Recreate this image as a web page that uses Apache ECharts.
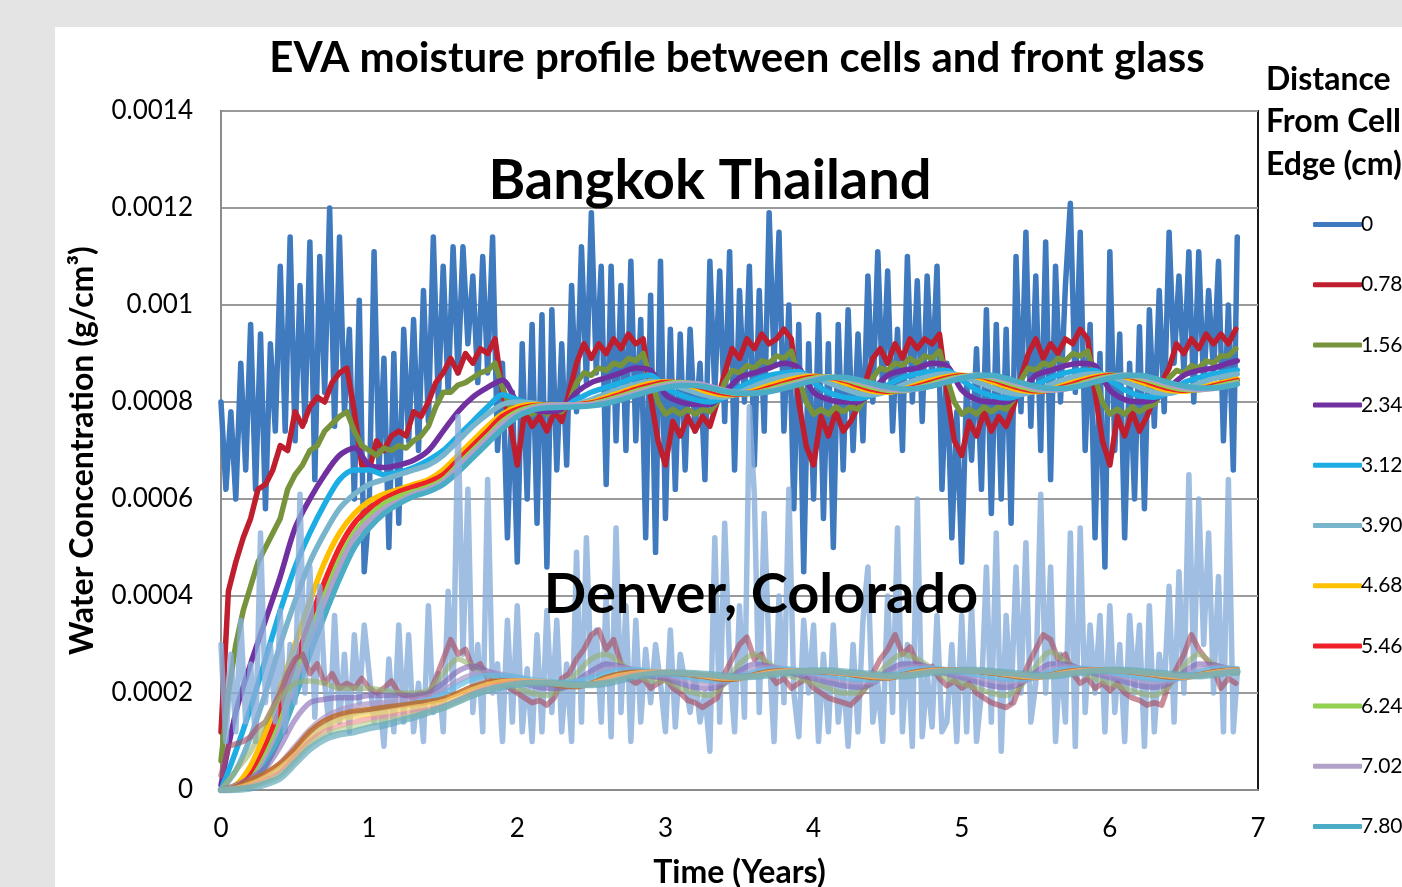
<!DOCTYPE html>
<html>
<head>
<meta charset="utf-8">
<script src="https://cdn.jsdelivr.net/npm/echarts@6/dist/echarts.min.js"></script>
<style>
  html, body { margin: 0; padding: 0; background: #e4e4e4; }
  #main { width: 1402px; height: 887px; }
</style>
</head>
<body>
<div id="main"></div>
<script>
// values in units of 1e-5 g/cm3
// Bangkok, 0 cm : one value every 1/30 year
const bkk0 = [
  80,62,78,60,88,66,96,62,94,58,92,74,108,74,114,72,104,76,113,64,110,82,120,75,114,78,95,60,101,45,
  58,111,66,89,50,90,55,95,72,97,70,103,76,114,80,108,82,112,86,112,92,106,84,110,86,114,70,88,52,82,
  47,92,60,96,55,98,46,99,66,92,67,104,78,112,84,119,86,108,63,108,72,104,70,109,72,97,52,102,49,109,
  56,95,62,94,66,95,74,88,64,109,82,107,76,111,66,103,80,108,67,103,74,119,88,115,74,100,58,96,45,92,
  60,98,56,92,50,96,66,99,70,94,72,106,80,111,82,107,74,95,70,110,80,105,76,106,84,108,62,88,52,78,
  47,84,68,91,62,99,57,96,60,95,55,110,78,115,75,106,70,113,64,108,80,104,121,82,115,70,96,52,90,46,
  111,70,94,52,88,60,95.5,58,99,75,103,78,115,88,106,86,111,80,111,83,103,86,109,72,100,66,114
];
// Bangkok 0.78 and 1.56 cm : every 0.05 year
const bkk078 = [
  12,41,47,52,56,62,63,66,71,70,78,75,79,81,80,84,86,87,78,67,
  66,72,70,73,74,73,78,77,80,84,86,89,86,90,88,91,90,93,82,76,
  67,78,75,77,74,78,76,82,88,92,89,92,90,93,91,94,92,93,81,72,
  67,76,73,77,74,77,75,80,86,91,89,93,91,94,92,93,95,93,80,71,
  67,77,73,78,74,76,79,84,89,91,88,92,89,93,91,93,92,94,82,72,
  69,76,73,78,74,77,75,79,85,90,93,89,92,90,93,92,95,93,82,72,
  67,77,73,78,74,77,81,84,87,92,90,93,91,94,92,94,92,95
];
const bkk156 = [
  6,20,30,37,42,47,50,53,56,62,65,67,70,71,74,75.5,77,78,74,71,
  70,69,70.5,70,71,70.5,72,73,75,79,82,82,83.5,84,85,86,86.5,88,83,79,
  77,78.5,77.5,78.5,77.5,78.5,78,80,84,86,85.5,87,86.5,88,87.5,89,88.5,90,85,80,
  77.5,78.5,77.5,78.5,77.5,78.5,78,80,84,86.5,86,87.5,87,88.5,88,89.5,89,90.5,85,80,
  77.5,78.5,77.5,79,78,79,78.5,81,85,87,86.5,88,87.5,89,88,89.5,89,90.5,85,80,
  77.5,78.5,77.5,79,78,79,78.5,80.5,84.5,87,86.5,88,87.5,89,88.5,90,89.5,90.5,85,80,
  77.5,78.5,77.5,79,78,79,79.5,82,85,86.5,86,87.5,87,88.5,88,89.5,89.5,91
];
// Bangkok, deeper positions : every 0.1 year
const bkk234 = [1,16,26,35,44,54,60,65,69,70.5, 67,66.5,67,68,70,74,78,81,83,84.5, 80,78.5,78,78.5,82,84,85,86,87,86.5, 81.5,80,79.5,79.5,82,85,86,87,88,87, 82,80.5,80,80,82.5,85.5,86.5,87,88,87.5, 82.5,80.5,80,80,82,85.5,86.5,87.5,88,87.5, 82.5,80.5,80,80.5,83,85.5,86.5,87,88, 88.5];
const bkk312 = [0,8,17,27,37,46,53,59,64,66, 66,65,65.5,66.5,68,70,73,76,79,81.5, 80.5,79.5,79,79,80.5,82,83,84,85,85.5, 83,81.5,80.5,80,81,83,84.5,85.5,86,86.3, 84,82,81,80.7,81.5,83.5,85,85.8,86.3,86.5, 84.5,82.5,81.3,80.8,81.5,83.5,85,86,86.5,86.5, 84.5,82.5,81.3,81,82,84,85,85.8,86.3, 86.6];
const bkk390 = [0,4,11,20,30,39,47,53,58,61, 63,64,65,66,67,69,72,75,77.5,79.5, 80,79.8,79.3,79,79.5,80.5,81.7,82.8,83.7,84.3, 84,83,82,81.2,81,82,83.3,84.4,85.2,85.6, 85.2,84,82.8,81.8,81.5,82.2,83.5,84.6,85.4,85.8, 85.4,84.2,83,82,81.6,82.3,83.6,84.7,85.5,85.8, 85.4,84.2,83,82,81.8,82.6,83.8,84.8,85.5, 85.8];
const bkk468 = [0,1,5,12,21,30,39,47,53,57, 59.5,61,62,63,64,66,69,72,75,77.5, 79,79.5,79.4,79.2,79.4,80,81,82,83,83.8, 84.2,83.8,83,82,81.5,81.6,82.4,83.4,84.3,85, 85.3,85,84,83,82.2,82,82.6,83.6,84.5,85.2, 85.5,85.2,84.2,83.2,82.4,82.1,82.6,83.6,84.5,85.2, 85.5,85.2,84.2,83.2,82.4,82.2,82.8,83.6,84.3, 84.7];
const bkk546 = [0,0.5,3,9,17,26,35,43,50,55, 58,60,61.5,62.5,63.5,65,68,71,74,77, 78.5,79.2,79.4,79.3,79.4,79.8,80.6,81.6,82.6,83.4, 84,84,83.4,82.5,81.8,81.6,82,82.9,83.8,84.6, 85.1,85.1,84.5,83.5,82.6,82.2,82.4,83.2,84.1,84.9, 85.4,85.4,84.7,83.7,82.8,82.3,82.4,83.2,84.1,84.9, 85.4,85.4,84.7,83.7,82.8,82.4,82.6,83.3,84, 84.4];
const bkk624 = [0,0.3,2,7,14,23,32,40,47.5,53, 56.5,59,60.5,61.5,62.5,64,67,70,73,76, 78,79,79.4,79.4,79.4,79.6,80.3,81.2,82.2,83, 83.7,84,83.7,82.9,82.1,81.7,81.8,82.5,83.4,84.2, 84.9,85.2,84.8,83.9,83,82.4,82.3,82.9,83.7,84.6, 85.2,85.5,85,84.1,83.2,82.5,82.4,82.9,83.7,84.6, 85.2,85.5,85,84.1,83.2,82.6,82.5,83,83.7, 84.1];
const bkk702 = [0,0.2,1.5,6,12.5,21,30,38.5,46,52, 55.5,58,59.5,61,62,63.5,66.5,69.5,72.5,75.5, 77.5,78.7,79.3,79.4,79.4,79.5,80,80.9,81.8,82.7, 83.4,83.8,83.8,83.2,82.4,81.9,81.8,82.2,83,83.9, 84.6,85.1,85,84.3,83.4,82.7,82.4,82.7,83.4,84.3, 85,85.5,85.3,84.5,83.6,82.8,82.5,82.7,83.4,84.3, 85,85.5,85.3,84.5,83.6,82.9,82.6,82.8,83.4, 83.8];
const bkk780 = [0,0.2,1,5,11,19,28,36,43.5,50, 54,57,59,60.5,61.5,63,65.5,68.5,71.5,74.5, 77,78.3,78.8,78.9,79,79.2,79.7,80.5,81.4,82.3, 83,83.4,83.4,82.9,82.2,81.8,81.8,82.1,82.8,83.6, 84.4,85,85.1,84.6,83.8,83.1,82.7,82.8,83.3,84.1, 84.9,85.4,85.5,84.9,84,83.2,82.8,82.8,83.3,84.1, 84.9,85.4,85.5,84.9,84,83.3,82.9,82.9,83.3, 83.7];

// Denver, 0 cm : every 1/30 year
const den0 = [
  30,10,28,12,35,14,26,10,53,18,30,14,37,12,30,18,61,20,46,15,42,22,12,36,14,28,12,32,18,34,
  24,14,20,9,27,12,34,14,32,12,22,10,38,16,24,12,41,20,77,28,62,16,30,12,64,20,26,10,35,14,
  38,12,25,10,32,12,37,16,35,12,26,10,49,14,52,22,33,14,40,11,54,16,38,10,35,14,29,18,30,22,
  12,33,13,28,22,16,24,14,20,8,52,14,55,26,12,38,15,79,61,16,57,28,10,40,18,62,20,11,35,20,
  34,10,28,12,34,14,24,9,30,12,35,46,14,22,10,40,16,54,12,30,9,60,11,24,13,36,12,14,30,10,
  36,12,38,10,20,46,14,53,8,36,18,46,20,51,14,22,61,20,46,10,28,14,53,9,54,16,34,20,36,12,
  38,16,30,10,36,20,34,9,38,12,28,20,42,14,45,20,65,24,60,30,53,20,44,12,64,12,24
];
// Denver 0.78 cm : every 0.05 year
const den078 = [
  3,9,9.5,10,11,13,14,17,20,24,27,28,24,26,22,24,21,22,21,23,
  21,20,21,22.5,20,19.5,19,20,19.5,23,27,31,28,29,25,26,23,22.5,22,21,
  20,19,18,18.5,17.5,19,23,24,27,29,32,33,29,31,26,23,22,23,21,22,
  23,21,20,18.5,18,17,18,19,24,27,30,31.5,27,28,24,22,23,21,22,23,
  21,20,19,18.5,18,17.5,19,21,24,27,29,32,28,29.5,26,25,25.5,23,21.5,22.5,
  21,22,20,19,18,17.5,17,18,22,26,29,32,31,27,28,24,22,23,21,22,
  20.5,22,20,19,18.5,17.5,18,17.5,22,25,28,32,29,27,25,21,23,22
];
// Denver, deeper positions : every 0.1 year
const den156 = [0,4,8,14,19,22,22.5,22,21,21, 21,20.5,20,20,20.5,24,27,25.5,24,22.5, 21,20,19.5,21,24,27,28,26,24,22.5, 22.5,21,20,19.5,22,26,28,26,24,23, 22,21,20,20,22.5,26,28,27,25,23, 22,21,20,19.5,21.5,25.5,28.5,26.5,24.5,23, 22,21,20,19.5,21.5,25.5,28,26,24.5, 24];
const den234 = [0,1,2.5,4.5,9,14.5,18,18.7,19,19, 19.5,19.5,19.5,19.5,20,22,24.5,25.5,24.5,23.5, 22.5,21.5,21,21,22.5,24.5,26,25.5,24.5,23.5, 23,22,21.2,21,22,24.5,26,25.5,24.5,23.7, 23,22.2,21.5,21.2,22,24.5,26,26,25,24, 23.2,22.3,21.5,21.2,22,24.3,26,26,25,24, 23.2,22.3,21.5,21.2,22,24.3,26,25.8,25, 24.6];
const den312 = [0,0.5,1.5,3,5.5,9,12.5,15,16.5,17.3, 17.8,18,18.3,18.6,19.2,20.5,22.5,23.8,24.2,23.8, 23.2,22.5,22,21.8,22.3,23.5,24.8,25.2,24.8,24.2, 23.6,23,22.4,22.1,22.4,23.6,24.9,25.3,25,24.4, 23.8,23.2,22.6,22.2,22.4,23.6,24.9,25.4,25.1,24.5, 23.9,23.3,22.7,22.3,22.4,23.5,24.9,25.4,25.1,24.5, 23.9,23.3,22.7,22.3,22.4,23.5,24.8,25.3,25.1, 24.9];
const den390 = [0,0.3,1,2.2,4.2,7.2,10.5,13,14.8,15.8, 16.4,16.9,17.4,17.9,18.6,19.8,21.5,22.9,23.6,23.6, 23.3,22.8,22.4,22.2,22.4,23.2,24.2,24.8,24.8,24.5, 24,23.5,23,22.6,22.6,23.3,24.3,24.9,25,24.7, 24.2,23.7,23.2,22.8,22.7,23.3,24.3,25,25.1,24.8, 24.3,23.8,23.3,22.9,22.8,23.3,24.3,25,25.1,24.8, 24.3,23.8,23.3,22.9,22.8,23.3,24.3,25,25.1, 25];
const den468 = [0,0.5,2,3.5,5.5,8.5,12,14.3,15.5,16.2, 16.6,17,17.4,17.8,18.2,18.8,20,21.3,22.2,22.5, 22.5,22.3,22,21.5,21.3,22,23.2,24,24.3,24.3, 24.2,24,23.6,23.2,22.8,23,23.8,24.4,24.6,24.6, 24.5,24.3,24,23.6,23.2,23.1,23.7,24.4,24.7,24.8, 24.7,24.5,24.1,23.7,23.3,23.2,23.7,24.4,24.7,24.8, 24.7,24.5,24.1,23.7,23.3,23.2,23.7,24.4,24.7, 24.8];
const den546 = [0,0.3,1.2,2.6,4.5,7.2,10.5,13,14.5,15.2, 15.5,16,16.5,17,17.5,18.2,19.4,20.7,21.7,22.3, 22.5,22.4,22.2,21.8,21.6,21.9,22.8,23.6,24.1,24.3, 24.3,24.1,23.8,23.4,23.1,23.1,23.6,24.2,24.5,24.6, 24.6,24.4,24.1,23.8,23.4,23.3,23.6,24.2,24.6,24.7, 24.7,24.6,24.3,23.9,23.5,23.3,23.6,24.2,24.6,24.7, 24.7,24.6,24.3,23.9,23.5,23.3,23.6,24.2,24.6, 24.7];
const den624 = [0,0.2,0.8,2,3.6,6.8,10,12,13.2,14, 14.6,15,15.5,16,16.6,17.3,18.6,20,21.1,21.8, 22.2,22.3,22.2,21.9,21.7,21.8,22.5,23.3,23.9,24.2, 24.3,24.2,23.9,23.6,23.3,23.2,23.5,24,24.4,24.6, 24.6,24.5,24.2,23.9,23.6,23.4,23.6,24,24.5,24.7, 24.7,24.6,24.4,24,23.7,23.4,23.6,24,24.5,24.7, 24.7,24.6,24.4,24,23.7,23.4,23.6,24,24.5, 24.6];
const den702 = [0,0.1,0.6,1.6,3,6,9.3,11.3,12.4,13, 13.7,14.2,14.8,15.4,16.1,16.9,18.1,19.5,20.6,21.4, 21.9,22.1,22.1,21.9,21.7,21.7,22.2,23,23.6,24, 24.2,24.2,24,23.7,23.4,23.3,23.4,23.8,24.3,24.5, 24.6,24.6,24.3,24,23.7,23.5,23.5,23.9,24.3,24.6, 24.7,24.6,24.4,24.1,23.8,23.5,23.5,23.9,24.3,24.6, 24.7,24.6,24.4,24.1,23.8,23.5,23.5,23.9,24.3, 24.5];
const den780 = [0,0.1,0.4,1.2,2.5,5.5,8.5,10.5,11.5,12, 12.8,13.4,14.2,15,16,17,18.3,19.6,20.6,21.3, 21.8,22,22,21.9,21.7,21.7,22,22.7,23.4,23.8, 24.1,24.1,24,23.8,23.5,23.3,23.4,23.7,24.1,24.4, 24.6,24.6,24.4,24.1,23.8,23.6,23.5,23.8,24.2,24.5, 24.7,24.7,24.5,24.2,23.9,23.6,23.5,23.8,24.2,24.5, 24.7,24.7,24.5,24.2,23.9,23.6,23.5,23.8,24.2, 24.4];

const distances = ['0', '0.78', '1.56', '2.34', '3.12', '3.90', '4.68', '5.46', '6.24', '7.02', '7.80'];
const xTicks = [0, 1, 2, 3, 4, 5, 6, 7];
const yTicks = [0, 0.0002, 0.0004, 0.0006, 0.0008, 0.001, 0.0012, 0.0014];

const bangkok = [bkk0, bkk078, bkk156, bkk234, bkk312, bkk390, bkk468, bkk546, bkk624, bkk702, bkk780];
const denver = [den0, den078, den156, den234, den312, den390, den468, den546, den624, den702, den780];
// sampling step (years) of each array above
const bkkSteps = [1 / 30, 0.05, 0.05, 0.1, 0.1, 0.1, 0.1, 0.1, 0.1, 0.1, 0.1];
const denSteps = [1 / 30, 0.05, 0.1, 0.1, 0.1, 0.1, 0.1, 0.1, 0.1, 0.1, 0.1];
const tEnd = 6.86;

const bkkColors = ['#3f79be', '#be1e2d', '#77933c', '#7030a0', '#1cade4', '#78b4cc',
                   '#ffc000', '#ee2028', '#92d050', '#b1a0c7', '#4bacc6'];
const denColors = ['rgba(135,174,218,0.8)', 'rgba(170,80,100,0.65)', 'rgba(150,175,110,0.6)',
                   'rgba(130,100,180,0.6)', 'rgba(170,150,200,0.7)', 'rgba(100,190,230,0.7)',
                   'rgba(190,105,40,0.85)', 'rgba(255,210,100,0.7)', 'rgba(240,140,140,0.6)',
                   'rgba(180,210,140,0.6)', 'rgba(100,170,190,0.7)'];

const FONT = 'Lato, "Open Sans", sans-serif';

function toPoints(values, step) {
  return values.map((v, i) => [Math.min(i * step, tEnd), v * 1e-5]);
}

const series = [];
bangkok.forEach((vals, k) => {
  series.push({
    name: distances[k],
    type: 'line',
    data: toPoints(vals, bkkSteps[k]),
    showSymbol: false,
    symbol: 'none',
    smooth: k >= 3 ? 0.3 : false,
    itemStyle: { color: bkkColors[k] },
    lineStyle: { color: bkkColors[k], width: 5.5, cap: 'round', join: 'round' },
    z: 2
  });
});
denver.forEach((vals, k) => {
  series.push({
    name: 'Denver ' + distances[k],
    type: 'line',
    data: toPoints(vals, denSteps[k]),
    showSymbol: false,
    symbol: 'none',
    smooth: k >= 2 ? 0.3 : false,
    itemStyle: { color: denColors[k] },
    lineStyle: { color: denColors[k], width: k === 10 ? 7 : 5.5, cap: 'round', join: 'round' },
    z: 3
  });
});

function label(text, x, y, size, align) {
  return {
    type: 'text', z: 100, x: x, y: y, silent: true,
    style: {
      text: text, fill: '#000', font: 'bold ' + size + 'px ' + FONT,
      align: align, textAlign: align, verticalAlign: 'middle', textVerticalAlign: 'middle'
    }
  };
}

const chart = echarts.init(document.getElementById('main'));
chart.setOption({
  animation: false,
  backgroundColor: '#e4e4e4',
  textStyle: { fontFamily: FONT },
  grid: {
    left: 221, top: 111, right: 144, bottom: 97,
    outerBoundsMode: 'none',
    show: true, borderColor: '#1a1a1a', borderWidth: 2, backgroundColor: '#fff'
  },
  graphic: [
    { type: 'rect', z: -10, silent: true, shape: { x: 55, y: 27, width: 1400, height: 900 }, style: { fill: '#fff' } },
    label('EVA moisture profile between cells and front glass', 737, 58, 42, 'center'),
    label('Distance', 1266, 80, 32, 'left'),
    label('From Cell', 1266, 122, 32, 'left'),
    label('Edge (cm)', 1266, 165, 32, 'left'),
    label('Bangkok Thailand', 710, 181, 56, 'center'),
    label('Denver, Colorado', 761, 595, 56, 'center')
  ],
  legend: {
    data: distances,
    orient: 'vertical',
    left: 1308,
    top: 209,
    icon: 'roundRect',
    itemWidth: 49,
    itemHeight: 5,
    itemGap: 39.2,
    selectedMode: false,
    textStyle: { fontSize: 21, fontFamily: FONT, color: '#000', padding: [0, 0, 0, -6], lineHeight: 20 }
  },
  xAxis: {
    type: 'value', min: 0, max: 7, interval: 1,
    name: 'Time (Years)', nameLocation: 'middle', nameGap: 83,
    nameTextStyle: { fontSize: 32, fontWeight: 'bold', color: '#000', fontFamily: FONT, verticalAlign: 'middle' },
    axisLine: { show: true, lineStyle: { color: '#8c8c8c', width: 2 } },
    axisTick: { show: false },
    splitLine: { show: false },
    axisLabel: { fontSize: 26, color: '#000', margin: 26, fontFamily: FONT,
      formatter: v => xTicks.includes(v) ? String(v) : '' }
  },
  yAxis: {
    type: 'value', min: 0, max: 0.0014, interval: 0.0002,
    name: 'Water Concentration (g/cm³)', nameLocation: 'middle', nameGap: 138,
    nameTextStyle: { fontSize: 32, fontWeight: 'bold', color: '#000', fontFamily: FONT, verticalAlign: 'middle' },
    axisLine: { show: true, lineStyle: { color: '#8c8c8c', width: 2 } },
    axisTick: { show: false },
    splitLine: { show: true, lineStyle: { color: '#9a9a9a', width: 2 } },
    axisLabel: { fontSize: 26, color: '#000', margin: 28, fontFamily: FONT,
      formatter: v => {
        const t = yTicks.find(y => Math.abs(y - v) < 1e-9);
        return t === undefined ? '' : (t === 0 ? '0' : String(+t.toFixed(4)));
      } }
  },
  series: series
});
</script>
</body>
</html>
